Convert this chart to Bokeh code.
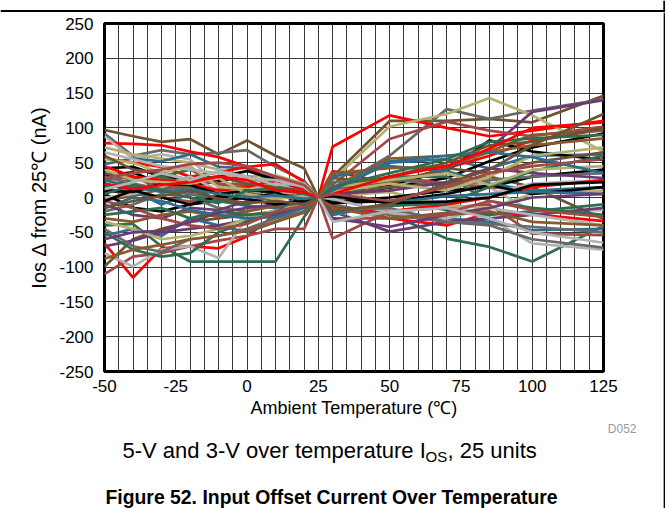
from bokeh.plotting import figure
from bokeh.models import FixedTicker, ColumnDataSource, Range1d
from bokeh.layouts import row, column
from bokeh.core.properties import value
from bokeh.embed import file_html
from bokeh.resources import INLINE

# Temperatures (°C) at which each unit was measured
temps = [-50, -40, -30, -20, -10, 0, 10, 20, 25, 30, 50, 70, 85, 100, 125]

x_ticks = [-50, -25, 0, 25, 50, 75, 100, 125]
y_ticks = [-250, -200, -150, -100, -50, 0, 50, 100, 150, 200, 250]

# Ios delta from 25 C (nA), one list per unit/voltage
u01 = [97, 88, 80, 84, 62, 82, 60, 42, 0, 30, 110, 110, 113, 108, 146]
u02 = [92, 60, 68, 62, 64, 68, 44, 24, 0, 12, 60, 127, 113, 125, 141]
u03 = [78, 77, 75, 66, 58, 44, 48, 22, 0, 73, 118, 100, 88, 96, 110]
u04 = [88, 56, 62, 55, 18, 22, 28, 16, 0, -5, 20, 28, 15, -20, -18]
u05 = [72, 62, 56, 50, 40, 30, 32, 20, 0, 25, 102, 120, 143, 118, 66]
u06 = [48, 56, 52, 62, 44, 42, 24, 14, 0, 10, 50, 55, 42, 60, 62]
u07 = [56, 50, 44, 30, 36, 44, 20, 10, 0, 38, 20, 42, 60, 82, 98]
u08 = [42, 44, 30, 26, 30, 38, 26, 6, 0, 12, 18, 38, 82, 66, 54]
u09 = [32, 36, 20, 16, 24, 30, 18, 10, 0, 4, 14, 28, 52, 72, 92]
u10 = [14, 4, 26, 8, 12, 14, 4, -4, 0, 8, 22, 40, 70, 123, 140]
u11 = [10, 6, 0, -6, 4, 16, 12, 4, 0, 18, 84, 109, 96, 88, 102]
u12 = [-4, 2, 12, 16, 10, 6, 2, -4, 0, 14, 56, 60, 66, 90, 96]
u13 = [-40, -38, -70, -92, -92, -92, -92, -28, 0, -12, -24, -59, -71, -92, -41]
u14 = [-66, -115, -73, -70, -73, -56, -24, -5, 0, -10, -30, -40, -22, -24, -34]
u15 = [-110, -85, -80, -70, -62, -55, -45, -45, 0, -59, -20, -15, -10, -52, -54]
u16 = [-80, -99, -75, -70, -87, -30, -20, -15, 0, -20, -10, -5, -30, -66, -75]
u17 = [-99, -60, -45, -35, -30, -25, -20, -10, 0, 5, 15, 20, 30, 15, -31]
u18 = [-55, -45, -55, -30, -40, -50, -35, -20, 0, -15, -20, -30, -35, -47, -45]
u19 = [-70, -62, -50, -45, -40, -32, -25, -12, 0, -20, -49, -35, -30, -25, -15]
u20 = [-45, -70, -78, -60, -55, -45, -30, -20, 0, -10, -25, -35, -40, -60, -72]
u21 = [-50, -75, -85, -80, -50, -35, -20, -8, 0, 5, -5, -18, -25, -20, -10]
u22 = [-35, -45, -60, -55, -45, -30, -18, -10, 0, 2, 8, -12, -15, 5, 10]
u23 = [5, -15, -20, -10, -5, 0, 5, 2, 0, -6, 0, 10, 15, 30, 40]
u24 = [35, 25, 30, 40, 20, 12, 15, 8, 0, 28, 20, 42, 35, 50, 65]
u25 = [25, 30, 12, 25, 20, 18, 8, 6, 0, 10, 30, 20, 15, 10, 5]
u26 = [20, 10, -10, 5, -5, -12, -15, -5, 0, 30, 45, 38, 20, 10, 15]
u27 = [15, 25, 30, 18, -5, -10, 5, 12, 0, -5, 30, 30, -5, -15, -25]
u28 = [0, 5, 15, 30, 10, 12, 20, 8, 0, -25, -10, -12, 5, 20, 25]
u29 = [-20, -10, 5, 0, -15, -20, -8, -5, 0, 22, 28, 15, 25, 30, 35]
u30 = [-10, -25, -30, -15, -18, -5, 0, 6, 0, 5, 10, 22, 42, 35, 28]
u31 = [-30, -35, -25, -20, -28, -20, -12, -8, 0, 35, 42, 45, 65, 75, 85]
u32 = [45, 30, 25, 20, 10, 15, 25, 12, 0, -15, -20, -10, 0, 15, 25]
u33 = [55, 50, 35, 45, 15, 12, 8, 5, 0, 8, 20, 10, 30, 60, 72]
u34 = [10, 8, 20, 18, 5, 10, 8, -10, 0, -8, -5, 5, 18, 5, 15]
u35 = [-25, -20, -15, -30, -20, -25, -22, 10, 0, -22, -12, -8, 15, 38, 60]
u36 = [-15, 0, -5, -18, -25, -30, -28, -15, 0, -25, -8, 2, 5, 8, 5]
u37 = [60, 40, 35, 25, 30, 20, 15, 10, 0, 15, 30, 50, 75, 80, 100]
u38 = [65, 55, 45, 40, 35, 28, 25, 15, 0, -2, -22, -30, -15, -25, -40]
u39 = [-5, -15, -30, -40, -45, -38, -20, -12, 0, -30, -30, -22, -5, -18, -28]
u40 = [30, 20, 12, 5, 0, 3, -5, -10, 0, -18, -15, -35, -38, -42, -50]
u41 = [-60, -50, -48, -35, -22, -15, -10, -6, 0, -30, -42, -25, -15, 0, 5]
u42 = [-88, -75, -68, -60, -55, -48, -35, -22, 0, -15, -30, -25, -20, -35, -40]
u43 = [40, 25, 22, 20, 28, 5, -2, 2, 0, 15, 25, 35, 18, 40, 45]
u44 = [-5, 10, 0, -10, 2, -2, -10, -5, 0, 2, -8, -6, 0, 18, 22]
u45 = [25, 15, 8, 12, 5, 0, 3, -2, 0, 10, 52, 60, 65, 58, 35]
u46 = [5, 18, 10, 0, -8, 10, 12, 5, 0, 15, 35, 55, 80, 85, 90]
u47 = [20, 12, 18, 22, 30, 25, 10, 8, 0, 5, 30, 45, 70, 100, 108]
u48 = [-15, -5, 2, 10, -2, -8, -5, -10, 0, -20, -10, 20, 40, 75, 120]
u49 = [12, 22, 35, 25, 38, 30, 18, 20, 0, -35, -20, -15, -30, -50, -65]
u50 = [28, 35, 40, 48, 50, 45, 30, 18, 0, 5, -5, 15, 35, 45, 55]

units = [u01, u02, u03, u04, u05, u06, u07, u08, u09, u10,
         u11, u12, u13, u14, u15, u16, u17, u18, u19, u20,
         u21, u22, u23, u24, u25, u26, u27, u28, u29, u30,
         u31, u32, u33, u34, u35, u36, u37, u38, u39, u40,
         u41, u42, u43, u44, u45, u46, u47, u48, u49, u50]

RED = "#FF0000"; BLACK = "#000000"; BROWN = "#6E5232"; GRAY = "#696969"
LGRAY = "#B2B2B2"; TEAL = "#2F6D8C"; GREEN = "#2E6E4F"; PURPLE = "#6A3B73"
KHAKI = "#B4B070"; ROSY = "#A34848"; OBROWN = "#8A5A2E"
unit_colors = [BROWN, GRAY, RED, LGRAY, KHAKI, TEAL, RED, BLACK, BLACK, PURPLE,
               ROSY, OBROWN, GREEN, RED, ROSY, LGRAY, BROWN, TEAL, PURPLE, GRAY,
               GREEN, KHAKI, BLACK, BROWN, ROSY, TEAL, GREEN, LGRAY, GRAY, PURPLE,
               OBROWN, RED, KHAKI, BLACK, GREEN, TEAL, BROWN, LGRAY, ROSY, GRAY,
               PURPLE, OBROWN, KHAKI, BLACK, TEAL, GREEN, RED, BROWN, LGRAY, ROSY]

FONT = "Liberation Sans"


def bare(fig):
    fig.axis.visible = False
    fig.grid.visible = False
    fig.outline_line_color = None
    fig.background_fill_color = "white"
    fig.border_fill_color = "white"
    fig.frame_align = False
    return fig


def blank(w, h, x0, x1, y0, y1):
    return bare(figure(width=w, height=h, x_range=Range1d(x0, x1), y_range=Range1d(y0, y1),
                       output_backend="svg", toolbar_location=None,
                       min_border=0, min_border_left=0, min_border_right=0,
                       min_border_top=0, min_border_bottom=0))


# ---- top strip with page rule (y = 9.5..11.5) and right rule stub ----
strip = blank(669, 12, 0, 669, 12, 0)
strip.quad(left=[0], right=[664.5], top=[9.5], bottom=[11.5],
           fill_color="black", line_color=None)
strip.quad(left=[662.8], right=[664.5], top=[0], bottom=[12],
           fill_color="black", line_color=None)

# ---- main chart ----
p = figure(width=663, height=408, x_range=(-50, 125), y_range=(-250, 250),
           output_backend="svg", toolbar_location=None,
           min_border_left=104, min_border_right=60, min_border_top=11, min_border_bottom=43,
           x_axis_label="Ambient Temperature (\u2103)", y_axis_label="Ios \u0394 from 25\u2103 (nA)")
p.background_fill_color = "white"
p.border_fill_color = "white"
p.outline_line_color = "black"
p.outline_line_width = 3
p.frame_align = False

p.xgrid.ticker = FixedTicker(ticks=list(range(-50, 126, 5)))
p.ygrid.ticker = FixedTicker(ticks=y_ticks)
for g in (p.xgrid, p.ygrid):
    g.grid_line_color = "#222222"
    g.grid_line_width = 1
    g.grid_line_alpha = 0.9

for ax in (p.xaxis, p.yaxis):
    ax.axis_line_color = None
    ax.major_tick_line_color = None
    ax.minor_tick_line_color = None
    ax.major_tick_out = 0
    ax.major_tick_in = 0
    ax.major_label_text_font = FONT
    ax.major_label_text_font_size = "17px"
    ax.major_label_text_color = "black"
    ax.axis_label_text_font = FONT
    ax.axis_label_text_font_size = "18px"
    ax.axis_label_text_font_style = "normal"
    ax.axis_label_text_color = "black"
p.yaxis.axis_label_text_font_size = "20px"
p.xaxis.ticker = FixedTicker(ticks=x_ticks)
p.yaxis.ticker = FixedTicker(ticks=y_ticks)
p.xaxis.major_label_overrides = {t: str(t) for t in x_ticks}
p.yaxis.major_label_overrides = {t: str(t) for t in y_ticks}
p.xaxis.major_label_standoff = 8
p.yaxis.major_label_standoff = 11
p.xaxis.axis_label_standoff = 3
p.yaxis.axis_label_standoff = 6

src = ColumnDataSource(dict(xs=[temps] * len(units), ys=units, color=unit_colors))
p.multi_line(xs="xs", ys="ys", line_color="color", line_width=2.7, source=src)

# ---- caption strip ----
cap = blank(663, 88, 0, 663, 88, 0)
cap.text(x=[636], y=[8], text=["D052"], text_font=value(FONT), text_font_size="12px",
         text_color="#9A9A9A", text_align="right", text_baseline="middle")
cap.text(x=[122], y=[30], text=["5-V and 3-V over temperature I"], text_font=value(FONT),
         text_font_size="22px", text_color="black", text_align="left", text_baseline="middle")
cap.text(x=[425], y=[36], text=["OS"], text_font=value(FONT),
         text_font_size="15px", text_color="black", text_align="left", text_baseline="middle")
cap.text(x=[447], y=[30], text=[", 25 units"], text_font=value(FONT),
         text_font_size="22px", text_color="black", text_align="left", text_baseline="middle")
cap.text(x=[331], y=[76], text=["Figure 52. Input Offset Current Over Temperature"],
         text_font=value(FONT), text_font_size="19.4px", text_font_style="bold",
         text_color="black", text_align="center", text_baseline="middle")

# ---- right page rule ----
rule = blank(6, 496, 663, 669, 496, 0)
rule.quad(left=[662.8], right=[664.5], top=[0], bottom=[496],
          fill_color="black", line_color=None)

layout = column(strip, row(column(p, cap, spacing=0), rule, spacing=0), spacing=0)

open("out.html", "w").write(file_html(layout, INLINE))
